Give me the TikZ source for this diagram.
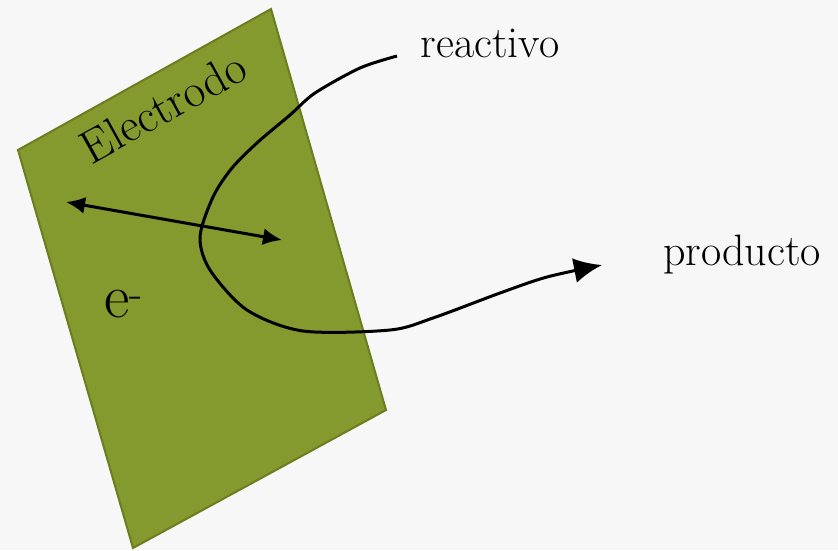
\documentclass[tikz,border=0pt]{standalone}
\usetikzlibrary{arrows.meta}
\begin{document}
\begin{tikzpicture}[x=1pt,y=-1pt]
	\definecolor{vertplaque}{RGB}{132,153,46}
	\definecolor{bordplaque}{RGB}{107,125,31}
	\definecolor{fond}{RGB}{247,247,247}
	\tikzstyle{plaque}=[fill=vertplaque,draw=bordplaque,line width=2pt,line join=miter]
	\tikzstyle{doublefleche}=[{Latex[length=19pt,width=17pt]}-{Latex[length=19pt,width=17pt]},line width=3pt]
	\tikzstyle{trajet}=[-{Latex[length=28pt,width=25pt]},line width=3pt,line join=round]
	\tikzstyle{texte}=[inner sep=0pt,font=\fontsize{44}{48}\selectfont]
	\fill[fond] (0,0) rectangle (838,550);
	\useasboundingbox (0,0) rectangle (838,550);
	% l'electrode
	\coordinate (Haut) at (271,9);
	\coordinate (Gauche) at (18,150);
	\coordinate (Bas) at (133,548);
	\coordinate (Droite) at (386,410);
	\draw[plaque] (Haut)--(Gauche)--(Bas)--(Droite)--cycle;
	\node[texte,rotate=29,font=\fontsize{47}{50}\selectfont] (Electrodo) at (163,107) {Electrodo};
	\node[texte,font=\fontsize{62}{66}\selectfont,anchor=base] (Electron) at (124,317) {e\textsuperscript{-}};
	% les textes
	\node[texte,anchor=base] (Reactivo) at (490,57) {reactivo};
	\node[texte,anchor=base] (Producto) at (742,265) {producto};
	% les fleches
	\coordinate (FlecheG) at (66,202);
	\coordinate (FlecheD) at (282,240);
	\draw[doublefleche] (FlecheG)--(FlecheD);
	\coordinate (Depart) at (397,56);
	\coordinate (Arrivee) at (602,265);
	\draw[trajet] plot[smooth,tension=0.5] coordinates {(Depart) (360,68) (315,93) (290,115) (258,142) (232,168) (213,197) (200,237) (210,270) (247,310) (303,331) (390,330) (433,318) (500,293) (547,277) (Arrivee)};
\end{tikzpicture}
\end{document}
